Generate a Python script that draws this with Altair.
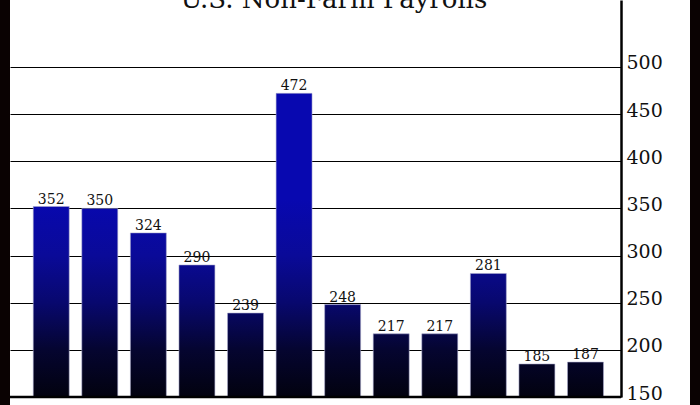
import altair as alt
import pandas as pd

# ---- data ----
months = ["Jan", "Feb", "Mar", "Apr", "May", "Jun", "Jul", "Aug", "Sep", "Oct", "Nov", "Dec"]
payrolls = [352, 350, 324, 290, 239, 472, 248, 217, 217, 281, 185, 187]
y_ticks = [150, 200, 250, 300, 350, 400, 450, 500]
title_text = "U.S. Non-Farm Payrolls"

df = pd.DataFrame({"month": months, "value": payrolls})

Y_MIN, Y_MAX = 150, 571
G_TOP = 360  # value where the global blue->black gradient reaches full blue
stop_values = [360, 300, 250, 200, 150]
stop_colors = ["#0808b0", "#0a0a98", "#08086e", "#050530", "#02020f"]

FONT = "DejaVu Serif"
FRAME = "#0a0202"

xenc = alt.X(
    "month:N", sort=months, axis=None,
    scale=alt.Scale(paddingInner=0.26, paddingOuter=0.42, align=0.57),
)
yaxis = alt.Axis(
    orient="right", values=y_ticks, grid=True, gridColor="black", gridWidth=1,
    gridOpacity=1, domainColor="black", domainWidth=2.5, ticks=False, tickSize=0,
    labelFont=FONT, labelFontSize=19, labelColor="#111111", labelPadding=5,
    labelOffset=-4, title=None, labelOverlap=False,
)
yenc = alt.Y("value:Q", scale=alt.Scale(domain=[Y_MIN, Y_MAX], nice=False, zero=False), axis=yaxis)

strip_left = alt.Chart(pd.DataFrame({"side": ["left"]})).mark_rect(color=FRAME).encode(
    x=alt.value(-10), x2=alt.value(0), y=alt.value(0), y2=alt.value(405)
)
strip_right = alt.Chart(pd.DataFrame({"side": ["right"]})).mark_rect(color=FRAME).encode(
    x=alt.value(680), x2=alt.value(690), y=alt.value(0), y2=alt.value(405)
)

bars = []
for m, v in zip(months, payrolls):
    y1 = (v - G_TOP) / (v - Y_MIN)
    grad = alt.LinearGradient(
        gradient="linear",
        stops=[
            alt.GradientStop(offset=(G_TOP - sv) / (G_TOP - Y_MIN), color=sc)
            for sv, sc in zip(stop_values, stop_colors)
        ],
        x1=0, x2=0, y1=y1, y2=1,
    )
    bars.append(
        alt.Chart(df)
        .transform_filter(alt.datum.month == m)
        .mark_bar(fill=grad, stroke="#a8a8cc", strokeWidth=0.8, strokeOpacity=0.7)
        .encode(x=xenc, y=yenc, y2=alt.datum(Y_MIN))
    )

baseline = alt.Chart(pd.DataFrame({"v": [Y_MIN]})).mark_rule(color="black", strokeWidth=2.5).encode(
    y=alt.Y("v:Q")
)

labels = alt.Chart(df).mark_text(
    font=FONT, fontSize=14, color="#111111", baseline="alphabetic", dy=-3
).encode(x=xenc, y=yenc, text="value:Q")

title = alt.Chart(pd.DataFrame({"t": [title_text]})).mark_text(
    font=FONT, fontSize=26, color="#111111", baseline="alphabetic", align="center"
).encode(text="t:N", x=alt.value(324), y=alt.value(8))

chart = (
    alt.layer(strip_left, *bars, baseline, labels, title, strip_right)
    .properties(
        width=611, height=397,
        padding={"left": 10, "top": 0, "right": 79, "bottom": 8},
        autosize=alt.AutoSizeParams(type="none"),
        background="white",
    )
    .configure_view(stroke=None)
)

chart.save("out.html", embed_options={"renderer": "svg", "actions": False})
